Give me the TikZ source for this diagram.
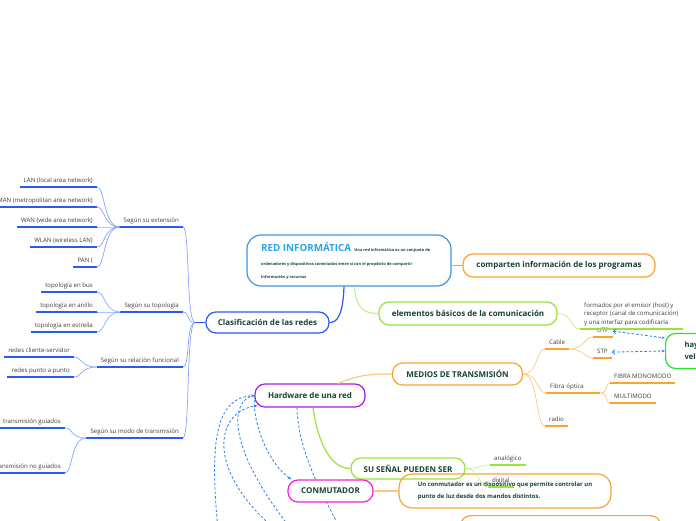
\documentclass[tikz,border=0pt]{standalone}
\usepackage{fontspec}
\setmainfont{Open Sans}
\usepackage{xcolor}
\definecolor{mmblue}{RGB}{40,90,245}
\definecolor{mmbluelt}{RGB}{135,165,250}
\definecolor{mmsky}{RGB}{60,150,225}
\definecolor{mmtitle}{RGB}{40,165,235}
\definecolor{mmorange}{RGB}{247,165,45}
\definecolor{mmorangelt}{RGB}{250,200,135}
\definecolor{mmgreen}{RGB}{150,228,60}
\definecolor{mmgreenlt}{RGB}{195,240,150}
\definecolor{mmlime}{RGB}{40,225,40}
\definecolor{mmpurple}{RGB}{165,30,235}
\definecolor{mmmagenta}{RGB}{245,30,215}
\definecolor{mmdash}{RGB}{40,125,230}
\definecolor{mmtext}{RGB}{22,66,52}
\definecolor{mmgray}{RGB}{60,60,60}
\usetikzlibrary{arrows.meta,positioning}

\begin{document}
\begin{tikzpicture}[x=1pt,y=-1pt,
  topic/.style={draw,fill=white,rounded corners=10pt,line width=1.2pt,inner sep=0pt,text=mmtext,font=\fontsize{8}{9}\selectfont\bfseries},
  leaf/.style={inner xsep=4pt,inner ysep=2.8pt,text height=4.4pt,text depth=1.4pt,text=mmgray,font=\fontsize{6.1}{8.8}\selectfont},
  uline/.style={line width=1.6pt},
  twig/.style={line width=0.7pt},
  branch/.style={line width=1.2pt},
  dashlink/.style={mmdash,dash pattern=on 2.5pt off 2pt,line width=0.8pt}]
  \useasboundingbox (0,0) rectangle (696,520);
  \clip (0,0) rectangle (696,520);
  % Central topic
  \node[draw=mmsky,fill=white,line width=1.2pt,rounded corners=14pt,minimum width=204pt,minimum height=51pt] (red) at (349,260.5) {};
  \node[anchor=base west,inner sep=0pt,text=mmtitle,font=\fontsize{9.8}{11}\selectfont\bfseries] (redtitle) at (261,251) {RED INFORMÁTICA};
  \node[anchor=base west,inner sep=0pt,text=mmtext,font=\fontsize{3.95}{4}\selectfont\bfseries] (reddesc1) at ([xshift=3pt]redtitle.base east) {Una red informática es un conjunto de};
  \node[anchor=base west,inner sep=0pt,text=mmtext,font=\fontsize{3.95}{4}\selectfont\bfseries] (reddesc2) at (261,265) {ordenadores y dispositivos conectados entre sí con el propósito de compartir};
  \node[anchor=base west,inner sep=0pt,text=mmtext,font=\fontsize{3.95}{4}\selectfont\bfseries] (reddesc3) at (261,278) {información y recursos};
  % Main topics
  \node[topic,draw=mmorange,minimum width=192pt,minimum height=23pt] (comparten) at (559,265.5) {comparten información de los programas};
  \node[topic,draw=mmblue,minimum width=123pt,minimum height=21pt] (clasif) at (267.5,322.5) {Clasificación de las redes};
  \node[topic,draw=mmgreen,minimum width=178pt,minimum height=23pt] (elementos) at (468,313.5) {elementos básicos de la comunicación};
  \node[topic,draw=mmorange,minimum width=130pt,minimum height=22pt] (medios) at (457.5,374) {MEDIOS DE TRANSMISIÓN};
  \node[topic,draw=mmpurple,minimum width=110pt,minimum height=23pt] (hardware) at (310,395.5) {Hardware de una red};
  \node[topic,draw=mmgreen,minimum width=114pt,minimum height=21pt] (senal) at (408,468.5) {SU SEÑAL PUEDEN SER};
  \node[topic,draw=mmlime,anchor=west,minimum width=98pt,minimum height=35pt,text width=60pt,align=left,font=\fontsize{7.6}{12}\selectfont\bfseries] (hay) at (665,351) {hay\\velocidades};
  \node[topic,draw=mmorange,fill=none,rounded corners=13pt,minimum width=212pt,minimum height=34pt,align=left,font=\fontsize{5.95}{11.5}\selectfont\bfseries] (conmdesc) at (505,491) {Un conmutador es un dispositivo que permite controlar un\\punto de luz desde dos mandos distintos.};
  \node[topic,draw=mmorange,fill=none,anchor=north west,minimum width=200pt,minimum height=30pt] (bottombox) at (460,515) {};
  % Hidden links of the hardware
  \coordinate (offa) at (218,530);
  \coordinate (offb) at (292,530);
  \coordinate (offc) at (276,530);
  \coordinate (offd) at (341,530);
  \draw[dashlink,-{Stealth[length=3.5pt]}] (offa) .. controls (210,445) and (214,398) .. (hardware.west);
  \draw[dashlink] (hardware.west) .. controls (228,400) and (228,450) .. (offb);
  \draw[dashlink,-{Stealth[length=3.5pt]}] (offc) .. controls (205,470) and (215,412) .. ([xshift=3pt,yshift=2pt]hardware.south west);
  \draw[dashlink] ([xshift=-13pt]hardware.south) .. controls (298,450) and (320,490) .. (offd);
  \node[topic,draw=mmmagenta,minimum width=85pt,minimum height=22pt] (conmutador) at (330.5,491) {CONMUTADOR};
  \draw[dashlink,-{Stealth[length=3.5pt]}] (hardware.west) .. controls (252,425) and (270,465) .. ([xshift=4pt]conmutador.north west);
  % Leaves, left side
  \node[leaf,anchor=south east] (ext) at (183,227) {Según su extensión};
  \node[leaf,anchor=south east] (topo) at (183,312) {Según su topología};
  \node[leaf,anchor=south east] (func) at (183,367) {Según su relación funcional};
  \node[leaf,anchor=south east] (modo) at (183,438) {Según su modo de transmisión};
  \node[leaf,anchor=south east] (lan) at (97,187) {LAN (local area network)};
  \node[leaf,anchor=south east] (man) at (97,207) {MAN (metropolitan area network)};
  \node[leaf,anchor=south east] (wan) at (97,227) {WAN (wide area network)};
  \node[leaf,anchor=south east] (wlan) at (97,247) {WLAN (wireless LAN)};
  \node[leaf,anchor=south east] (pan) at (97,267) {PAN (};
  \node[leaf,anchor=south east] (bus) at (97,292) {topología en bus};
  \node[leaf,anchor=south east] (anillo) at (97,312) {topología en anillo};
  \node[leaf,anchor=south east] (estrella) at (97,332) {topología en estrella};
  \node[leaf,anchor=south east] (cliente) at (74,357) {redes cliente-servidor};
  \node[leaf,anchor=south east] (punto) at (74,377) {redes punto a punto};
  \node[leaf,anchor=south east] (guiados) at (65,428) {transmisión guiados};
  \node[leaf,anchor=south east] (noguiados) at (65,473) {transmisión no guiados};
  \foreach \n in {ext,topo,func,modo,lan,man,wan,wlan,pan,bus,anillo,estrella,cliente,punto,guiados,noguiados}
    \draw[uline,mmblue] (\n.south west) -- (\n.south east);
  % Leaves, right side
  \node[leaf,anchor=south west,align=left] (formados) at (580,329) {formados por el emisor (host) y\\receptor (canal de comunicación)\\y una interfaz para codificarla};
  \node[leaf,anchor=south west] (cable) at (545,349) {Cable};
  \node[leaf,anchor=south west] (utp) at (593,337) {UTP};
  \node[leaf,anchor=south west] (stp) at (593,358) {STP};
  \node[leaf,anchor=south west,text width=46pt,align=left] (fibra) at (546,393) {Fibra óptica};
  \node[leaf,anchor=south west] (radio) at (545,426) {radio};
  \node[leaf,anchor=south west] (mono) at (610,383) {FIBRA MONOMODO};
  \node[leaf,anchor=south west] (multi) at (610,403) {MULTIMODO};
  \node[leaf,anchor=south west] (analogico) at (490,465) {analógico};
  \node[leaf,anchor=south west] (digital) at (488,487) {digital};
  \foreach \n in {cable,utp,stp,fibra,radio,mono,multi}
    \draw[uline,mmorange] (\n.south west) -- (\n.south east);
  \foreach \n in {formados,analogico,digital}
    \draw[uline,mmgreen] (\n.south west) -- (\n.south east);
  % Branches
  \draw[branch,mmorange] ([yshift=-5pt]red.east) -- (comparten.west);
  \draw[branch,mmblue] ([xshift=-5pt]red.south) .. controls +(-1,28) and +(8,0) .. (clasif.east);
  \draw[branch,mmgreenlt] ([xshift=5pt]red.south) .. controls +(3,22) and +(-15,0) .. (elementos.west);
  \draw[branch,mmorangelt] ([xshift=28pt]hardware.north) .. controls +(20,-8) and +(-25,0) .. (medios.west);
  \draw[branch,mmgreen] ([xshift=3pt]hardware.south) .. controls +(5,35) and +(-20,0) .. (senal.west);
  \draw[branch,mmorangelt] (conmutador.east) -- (conmdesc.west);
  % Twigs
  \coordinate (clhub) at (195,322.5);
  \draw[branch,mmblue] (clasif.west) -- (clhub);
  \foreach \n in {ext,topo,func,modo}
    \draw[twig,mmbluelt] (clhub) .. controls +(-9,0) and +(7,0) .. (\n.south east);
  \foreach \n in {lan,man,wan,wlan,pan}
    \draw[twig,mmbluelt] (ext.south west) .. controls +(-16,0) and +(8,0) .. (\n.south east);
  \foreach \n in {bus,anillo,estrella}
    \draw[twig,mmbluelt] (topo.south west) .. controls +(-16,0) and +(8,0) .. (\n.south east);
  \foreach \n in {cliente,punto}
    \draw[twig,mmbluelt] (func.south west) .. controls +(-16,0) and +(8,0) .. (\n.south east);
  \foreach \n in {guiados,noguiados}
    \draw[twig,mmbluelt] (modo.south west) .. controls +(-16,0) and +(8,0) .. (\n.south east);
  \foreach \n in {cable,fibra,radio}
    \draw[twig,mmorangelt] (medios.east) .. controls +(15,0) and +(-9,0) .. (\n.south west);
  \foreach \n in {utp,stp}
    \draw[twig,mmorangelt] (cable.south east) .. controls +(14,0) and +(-8,0) .. (\n.south west);
  \foreach \n in {mono,multi}
    \draw[twig,mmorangelt] (fibra.south east) .. controls +(8,0) and +(-5,0) .. (\n.south west);
  \foreach \n in {analogico,digital}
    \draw[twig,mmgreenlt] (senal.east) .. controls +(15,0) and +(-10,0) .. (\n.south west);
  \draw[twig,mmgreenlt] (elementos.east) .. controls +(15,0) and +(-10,0) .. (formados.south west);
  % Links to the speed node
  \draw[dashlink,{Straight Barb[length=2.5pt]}-{Stealth[length=3.5pt]}] (utp.east) -- ([yshift=13pt]hay.west);
  \draw[dashlink,{Straight Barb[length=2.5pt]}-{Stealth[length=3.5pt]}] (stp.east) -- (hay.west);
\end{tikzpicture}
\end{document}
